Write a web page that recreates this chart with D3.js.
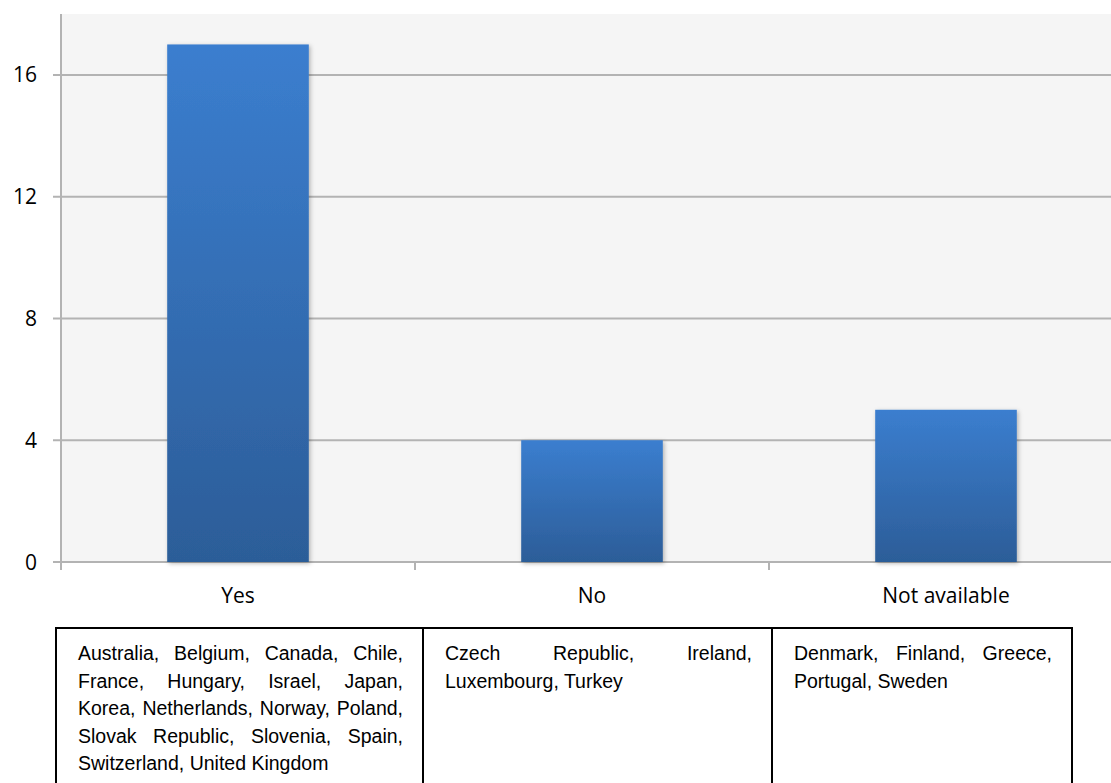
<!DOCTYPE html>
<html>
<head>
<meta charset="utf-8">
<script src="https://cdn.jsdelivr.net/npm/d3@7"></script>
<style>
  html, body { margin: 0; padding: 0; background: #ffffff; }
  svg { display: block; }
</style>
</head>
<body>
<svg id="chart" width="1111" height="783"></svg>
<script>
// ---- data ----
const categories = ["Yes", "No", "Not available"];
const counts = [17, 4, 5];
const yTicks = [0, 4, 8, 12, 16];
const countryLists = [
  "Australia, Belgium, Canada, Chile, France, Hungary, Israel, Japan, Korea, Netherlands, Norway, Poland, Slovak Republic, Slovenia, Spain, Switzerland, United Kingdom",
  "Czech Republic, Ireland, Luxembourg, Turkey",
  "Denmark, Finland, Greece, Portugal, Sweden"
];

// ---- layout ----
const W = 1111, H = 783;
const plot = { left: 61, right: 1123, top: 14, bottom: 562 };
const svg = d3.select("#chart");

const x = d3.scaleBand().domain(categories).range([plot.left, plot.right])
  .paddingInner(0.6).paddingOuter(0.3);
const y = d3.scaleLinear().domain([0, 18]).range([plot.bottom, plot.top]);

const defs = svg.append("defs");
const grad = defs.append("linearGradient").attr("id", "barGrad")
  .attr("x1", 0).attr("y1", 0).attr("x2", 0).attr("y2", 1);
grad.append("stop").attr("offset", "0%").attr("stop-color", "#3b7ecf");
grad.append("stop").attr("offset", "100%").attr("stop-color", "#2c5d98");
const f = defs.append("filter").attr("id", "shadow")
  .attr("x", "-10%").attr("y", "-10%").attr("width", "130%").attr("height", "130%");
f.append("feDropShadow").attr("dx", 1.5).attr("dy", 1.5).attr("stdDeviation", 2)
  .attr("flood-color", "#000").attr("flood-opacity", 0.28);

// plot background
svg.append("rect").attr("x", plot.left).attr("y", plot.top)
  .attr("width", W - plot.left).attr("height", plot.bottom - plot.top)
  .attr("fill", "#f5f5f5");

// gridlines
svg.append("g").selectAll("line").data(yTicks).join("line")
  .attr("x1", plot.left - 8).attr("x2", W)
  .attr("y1", d => y(d)).attr("y2", d => y(d))
  .attr("stroke", "#b3b3b3").attr("stroke-width", 2);

// y axis line
svg.append("line").attr("x1", plot.left).attr("x2", plot.left)
  .attr("y1", plot.top).attr("y2", plot.bottom + 8)
  .attr("stroke", "#b3b3b3").attr("stroke-width", 2);

// category separators ticks
const seps = categories.slice(1).map(c => x(c) - x.step() * x.paddingInner() / 2);
svg.append("g").selectAll("line").data(seps).join("line")
  .attr("x1", d => d).attr("x2", d => d)
  .attr("y1", plot.bottom).attr("y2", plot.bottom + 8)
  .attr("stroke", "#b3b3b3").attr("stroke-width", 2);

// y tick labels
svg.append("g").selectAll("text").data(yTicks).join("text")
  .attr("x", 37).attr("y", d => y(d)).attr("dy", "0.36em")
  .attr("text-anchor", "end")
  .attr("font-family", "'Open Sans', sans-serif").attr("font-size", 21)
  .attr("fill", "#000").text(d => d);

// bars
svg.append("g").selectAll("rect").data(categories).join("rect")
  .attr("x", d => x(d)).attr("width", x.bandwidth())
  .attr("y", (d, i) => y(counts[i]))
  .attr("height", (d, i) => y(0) - y(counts[i]))
  .attr("fill", "url(#barGrad)").attr("filter", "url(#shadow)");

// category labels
svg.append("g").selectAll("text").data(categories).join("text")
  .attr("x", d => x(d) + x.bandwidth() / 2).attr("y", 603)
  .attr("text-anchor", "middle")
  .attr("font-family", "'Open Sans', sans-serif").attr("font-size", 21)
  .attr("fill", "#000").text(d => d);

// ---- table of countries ----
const tbl = { top: 628, left: 56, cols: [56, 423, 772, 1072], padL: 22, padR: 20 };
const tg = svg.append("g");
tg.append("line").attr("x1", tbl.cols[0] - 1).attr("x2", tbl.cols[3] + 1)
  .attr("y1", tbl.top).attr("y2", tbl.top).attr("stroke", "#000").attr("stroke-width", 2);
tg.selectAll("line.v").data(tbl.cols).join("line").attr("class", "v")
  .attr("x1", d => d).attr("x2", d => d)
  .attr("y1", tbl.top).attr("y2", H + 5)
  .attr("stroke", "#000").attr("stroke-width", 2);

const fontSpec = { family: "'Liberation Sans', Arial, sans-serif", size: 19.5 };
const measure = svg.append("text").attr("font-family", fontSpec.family)
  .attr("font-size", fontSpec.size).attr("visibility", "hidden");
function tw(s) { measure.text(s); return measure.node().getComputedTextLength(); }

countryLists.forEach((txt, ci) => {
  const x0 = tbl.cols[ci] + tbl.padL;
  const maxW = tbl.cols[ci + 1] - tbl.padR - x0;
  const words = txt.split(" ");
  const lines = [];
  let cur = [];
  words.forEach(w => {
    const trial = cur.concat([w]).join(" ");
    if (cur.length && tw(trial) > maxW + 1) { lines.push(cur); cur = [w]; }
    else cur.push(w);
  });
  if (cur.length) lines.push(cur);
  lines.forEach((ln, li) => {
    const s = ln.join(" ");
    let ws = 0;
    if (li < lines.length - 1 && ln.length > 1) ws = Math.max(0, (maxW - tw(s)) / (ln.length - 1));
    tg.append("text").attr("x", x0).attr("y", 660 + li * 27.5)
      .attr("font-family", fontSpec.family).attr("font-size", fontSpec.size)
      .attr("fill", "#000").style("word-spacing", ws + "px").text(s);
  });
});
measure.remove();
</script>
</body>
</html>
